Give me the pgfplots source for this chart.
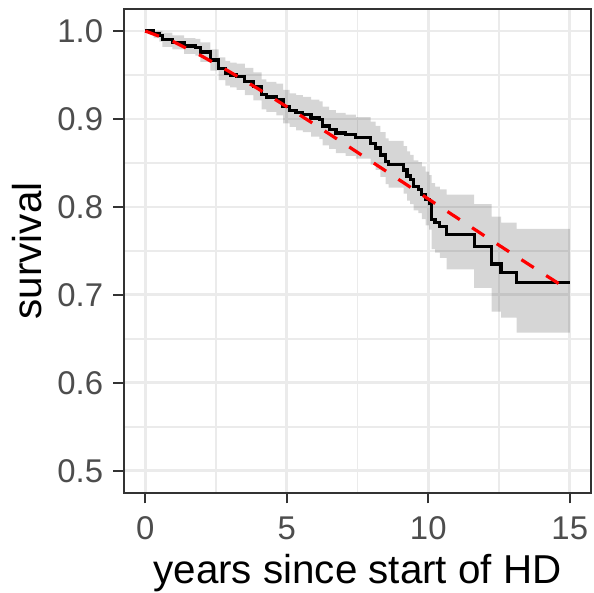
\documentclass[border=0pt]{standalone}
\usepackage{fontspec}
\setmainfont{Liberation Sans}
\usepackage{pgfplots}
\usepackage{pgfplotstable}
\pgfplotsset{compat=1.18}
\usepgfplotslibrary{fillbetween}
\definecolor{gridc}{HTML}{EBEBEB}
\definecolor{framec}{HTML}{333333}
\definecolor{tickc}{HTML}{4D4D4D}

\pgfplotstableread{
t S lo up
0 1.000 1.000 1.000
0.30 0.997 0.992 1.000
0.50 0.995 0.988 1.000
0.61 0.990 0.982 0.998
0.96 0.987 0.979 0.995
1.37 0.983 0.974 0.992
1.77 0.9815 0.972 0.991
1.95 0.976 0.965 0.987
2.30 0.967 0.955 0.979
2.59 0.957 0.944 0.970
2.83 0.952 0.938 0.966
3.00 0.950 0.936 0.964
3.23 0.948 0.933 0.963
3.52 0.943 0.927 0.958
3.82 0.937 0.921 0.953
4.11 0.928 0.911 0.945
4.28 0.925 0.908 0.942
4.63 0.922 0.904 0.940
4.87 0.914 0.895 0.933
5.10 0.910 0.891 0.929
5.33 0.907 0.887 0.927
5.57 0.905 0.885 0.925
5.86 0.901 0.880 0.922
6.15 0.899 0.877 0.920
6.27 0.892 0.870 0.914
6.50 0.888 0.866 0.910
6.74 0.884 0.861 0.907
7.08 0.882 0.858 0.905
7.44 0.879 0.855 0.902
7.96 0.8725 0.848 0.897
8.14 0.867 0.842 0.892
8.31 0.859 0.834 0.885
8.49 0.852 0.826 0.878
8.60 0.848 0.822 0.875
9.13 0.842 0.815 0.869
9.25 0.835 0.807 0.863
9.36 0.831 0.803 0.859
9.48 0.823 0.796 0.853
9.65 0.8196 0.793 0.851
9.77 0.814 0.786 0.846
9.91 0.808 0.779 0.840
10.03 0.8045 0.774 0.836
10.12 0.786 0.752 0.827
10.24 0.782 0.748 0.823
10.41 0.778 0.742 0.820
10.65 0.769 0.729 0.814
11.62 0.755 0.708 0.803
12.24 0.735 0.681 0.789
12.57 0.725 0.674 0.782
13.12 0.714 0.657 0.775
15.00 0.714 0.657 0.775
}\kmtable

\pgfplotstableread{
t S
0 1.000
1 0.9878
2 0.9714
3 0.9533
4 0.9340
5 0.9139
6 0.8934
7 0.8725
8 0.8514
9 0.8302
10 0.8090
11 0.7879
12 0.7668
13 0.7460
14 0.7253
15 0.7048
}\fittable

\begin{document}
\begin{tikzpicture}
\begin{axis}[
  name=ax,
  scale only axis, width=467bp, height=483.7bp,
  xmin=-0.75, xmax=15.75, ymin=0.475, ymax=1.025,
  xtick={0,5,10,15}, ytick={0.5,0.6,0.7,0.8,0.9,1.0},
  minor xtick={2.5,7.5,12.5}, minor ytick={0.55,0.65,0.75,0.85,0.95},
  grid=both,
  major grid style={color=gridc, line width=2.7bp},
  minor grid style={color=gridc, line width=1.6bp},
  axis line style={color=framec, line width=2.2bp},
  tick align=outside, xtick pos=left, ytick pos=left,
  major tick length=10.7bp, minor tick length=0pt,
  tick style={color=framec, line width=2.4bp},
  /pgf/number format/assume math mode=true,
  xticklabel style={font=\fontsize{33}{36}\selectfont, text=tickc, anchor=base, yshift=-35.9bp},
  yticklabel style={font=\fontsize{33}{36}\selectfont, text=tickc, anchor=east, inner sep=0pt, xshift=-10bp,
    /pgf/number format/fixed, /pgf/number format/fixed zerofill, /pgf/number format/precision=1},
  xlabel={years since start of HD}, ylabel={survival},
  every axis x label/.style={at={(axis description cs:0.5,-0.1873)}, anchor=base, font=\fontsize{40.5}{44}\selectfont},
  every axis y label/.style={at={(axis description cs:-0.1762,0.5)}, anchor=base, rotate=90, font=\fontsize{40.5}{44}\selectfont},
]
\addplot[name path=up, const plot, draw=none, forget plot] table[x=t,y=up]{\kmtable};
\addplot[name path=lo, const plot, draw=none, forget plot] table[x=t,y=lo]{\kmtable};
\addplot[fill=black, fill opacity=0.16, draw=none, forget plot] fill between[of=up and lo];
\addplot[const plot, black, line width=3.2bp, forget plot] table[x=t,y=S]{\kmtable};
\addplot[red, line width=3.2bp, dash pattern=on 14.7bp off 14.7bp, forget plot] table[x=t,y=S]{\fittable};
\end{axis}
\pgfresetboundingbox
\path[use as bounding box] ([shift={(-124bp,-100.3bp)}]ax.south west) rectangle ([shift={(3bp,9bp)}]ax.north east);
\end{tikzpicture}
\end{document}
